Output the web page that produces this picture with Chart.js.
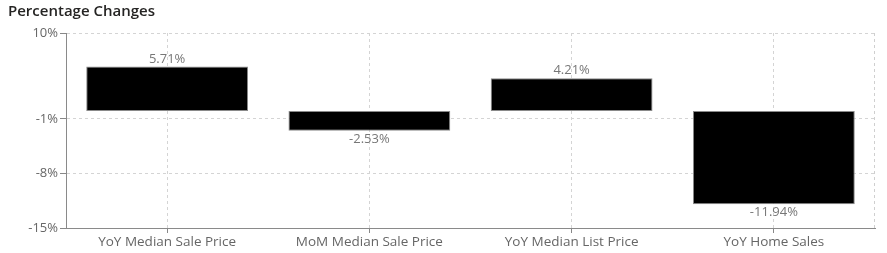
<!DOCTYPE html>
<html>
<head>
<meta charset="utf-8">
<script src="https://cdn.jsdelivr.net/npm/chart.js@4.4.0/dist/chart.umd.min.js"></script>
<style>
html,body{margin:0;padding:0;background:#fff;}
#wrap{position:relative;width:887px;height:253px;}
</style>
</head>
<body>
<div id="wrap"><canvas id="c" width="887" height="253"></canvas></div>
<script>
const categories = ["YoY Median Sale Price", "MoM Median Sale Price", "YoY Median List Price", "YoY Home Sales"];
const values = [5.71, -2.53, 4.21, -11.94];
const yTicks = [-15, -8, -1, 10];
const yMin = -15, yMax = 10;
const titleText = "Percentage Changes";

const FONT = "'Open Sans', 'Noto Sans', sans-serif";

const valueLabels = {
  id: 'valueLabels',
  afterDatasetsDraw(chart) {
    const ctx = chart.ctx;
    const meta = chart.getDatasetMeta(0);
    ctx.save();
    ctx.font = "13px " + FONT;
    ctx.fillStyle = '#777';
    ctx.textAlign = 'center';
    meta.data.forEach((bar, i) => {
      const v = chart.data.datasets[0].data[i];
      const txt = v.toFixed(2) + '%';
      if (v >= 0) {
        ctx.textBaseline = 'bottom';
        ctx.fillText(txt, bar.x, bar.y - 1);
      } else {
        ctx.textBaseline = 'top';
        ctx.fillText(txt, bar.x, bar.y + 2);
      }
    });
    ctx.restore();
  }
};

const rightEdge = {
  id: 'rightEdge',
  beforeDatasetsDraw(chart) {
    const {ctx, chartArea} = chart;
    ctx.save();
    ctx.strokeStyle = '#cfcfcf';
    ctx.lineWidth = 1;
    ctx.setLineDash([3, 3]);
    ctx.beginPath();
    const x = Math.round(chartArea.right) - 0.5;
    ctx.moveTo(x, chartArea.top);
    ctx.lineTo(x, chartArea.bottom);
    ctx.stroke();
    ctx.restore();
  }
};

new Chart(document.getElementById('c'), {
  type: 'bar',
  data: {
    labels: categories,
    datasets: [{
      data: values,
      backgroundColor: '#000000',
      borderColor: '#8a8a8a',
      borderWidth: 1,
      borderSkipped: false,
      barPercentage: 0.8,
      categoryPercentage: 1.0
    }]
  },
  options: {
    responsive: false,
    animation: false,
    layout: { padding: { left: 8, right: 12, top: 0, bottom: 0 } },
    plugins: {
      legend: { display: false },
      tooltip: { enabled: false },
      title: {
        display: true,
        text: titleText,
        align: 'start',
        color: '#252423',
        font: { family: FONT, size: 15, weight: '600' },
        padding: { top: 3, bottom: 12 }
      }
    },
    scales: {
      x: {
        afterFit(scale) { scale.height = 25; },
        grid: {
          offset: false,
          color: '#d4d4d4',
          drawTicks: true,
          tickLength: 5,
          tickColor: '#888',
          tickBorderDash: []
        },
        border: { display: true, color: '#8a8a8a', width: 1, dash: [3, 3] },
        ticks: {
          color: '#666',
          padding: 1,
          font: { family: FONT, size: 13.5 },
          maxRotation: 0
        }
      },
      y: {
        min: yMin,
        max: yMax,
        afterBuildTicks(scale) {
          scale.ticks = yTicks.map(v => ({ value: v }));
        },
        afterFit(scale) { scale.width = 58; },
        grid: {
          color: '#d4d4d4',
          drawTicks: true,
          tickLength: 6,
          tickColor: '#888',
          tickBorderDash: []
        },
        border: { display: true, color: '#8a8a8a', width: 1, dash: [3, 3] },
        ticks: {
          color: '#666',
          padding: 2,
          font: { family: FONT, size: 13 },
          callback: v => v + '%'
        }
      }
    }
  },
  plugins: [valueLabels, rightEdge]
});
</script>
</body>
</html>
